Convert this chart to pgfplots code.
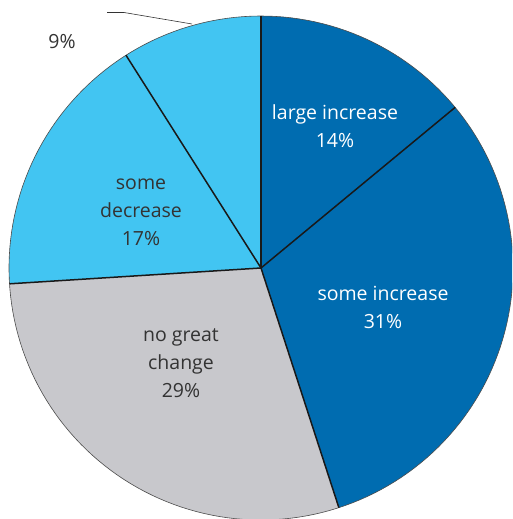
\documentclass[border=0pt]{standalone}
\usepackage{pgfplots}
\pgfplotsset{compat=1.18}
\usepackage{fontspec}
\setmainfont{Open Sans}
\definecolor{dblue}{RGB}{0,108,176}
\definecolor{lblue}{RGB}{66,197,242}
\definecolor{pgray}{RGB}{200,200,204}
\definecolor{txt}{RGB}{51,51,51}
\def\cx{261}
\def\cy{251}
\def\rr{252}
% slice from cumulative percent #1 to #2
\newcommand{\slice}[3]{%
  \pgfmathsetmacro\angA{90-3.6*#2}%
  \pgfmathsetmacro\angB{90-3.6*#1}%
  \addplot[fill=#3, draw=none, domain=\angA:\angB, samples=80]
    ({\cx+\rr*cos(x)},{\cy+\rr*sin(x)}) -- (axis cs:\cx,\cy) -- cycle;
}
\newcommand{\spoke}[1]{%
  \pgfmathsetmacro\angC{90-3.6*#1}%
  \addplot[black!90, line width=1.5pt, domain=0:\rr, samples=2]
    ({\cx+x*cos(\angC)},{\cy+x*sin(\angC)});
}
\begin{document}
\begin{tikzpicture}
\begin{axis}[x=1pt, y=1pt, xmin=0, xmax=512, ymin=0, ymax=519,
  hide axis, clip=true]
% data: large increase 14, some increase 31, no great change 29, some decrease 17, large decrease 9
\slice{0}{14}{dblue}
\slice{14}{45}{dblue}
\slice{45}{74}{pgray}
\slice{74}{91}{lblue}
\slice{91}{100}{lblue}
\addplot[black!70, line width=0.6pt, domain=0:360, samples=200]
  ({\cx+\rr*cos(x)},{\cy+\rr*sin(x)});
\spoke{0}
\spoke{14}
\spoke{45}
\spoke{74}
\spoke{91}
\addplot[black!80, line width=0.6pt] coordinates {(107,506.5) (124,506.5) (192,495)};
\node[font=\fontsize{19.5}{28}\selectfont, text=white, align=center] at (axis cs:335,393) {large increase\\14\%};
\node[font=\fontsize{19.5}{28}\selectfont, text=white, align=center] at (axis cs:383,212) {some increase\\31\%};
\node[font=\fontsize{19.5}{28}\selectfont, text=txt, align=center] at (axis cs:181,156) {no great\\change\\29\%};
\node[font=\fontsize{19.5}{28}\selectfont, text=txt, align=center] at (axis cs:141,307) {some\\decrease\\17\%};
\node[font=\fontsize{19.5}{28}\selectfont, text=txt] at (axis cs:62,477) {9\%};
\end{axis}
\useasboundingbox (current axis.south west) rectangle (current axis.north east);
\end{tikzpicture}
\end{document}
